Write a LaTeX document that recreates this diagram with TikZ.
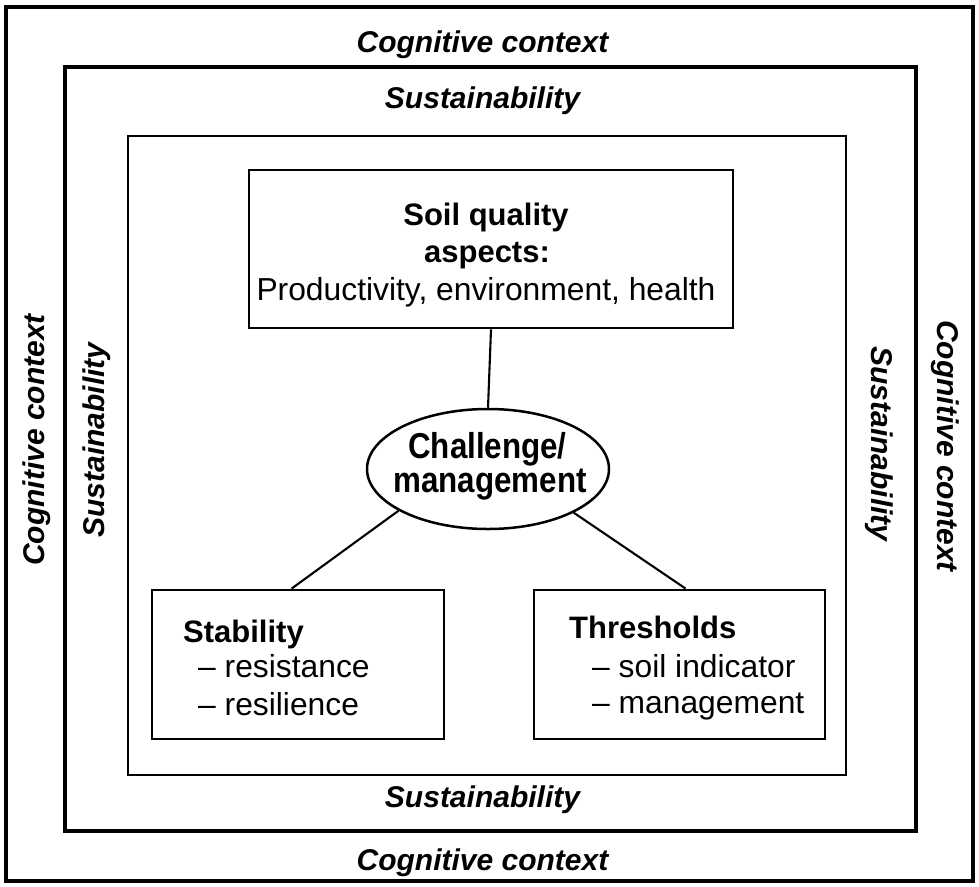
\documentclass[tikz,border=0pt]{standalone}
\usepackage{fontspec}
\setmainfont{Liberation Sans}
\usetikzlibrary{shapes.geometric}
\tikzset{
  frameA/.style={line width=4pt},
  frameB/.style={line width=2.8pt},
  boxst/.style={draw, line width=2.8pt, inner sep=0pt, rectangle},
  conn/.style={line width=2.1pt},
  ctxlabel/.style={inner sep=0pt, font=\fontsize{30}{36}\selectfont\bfseries\itshape},
  boxtxt/.style={inner sep=0pt, font=\fontsize{31.8}{37}\selectfont},
  boxbold/.style={inner sep=0pt, font=\fontsize{31}{37}\selectfont\bfseries},
  elltxt/.style={inner sep=0pt, font=\fontsize{36}{42}\selectfont\bfseries, xscale=0.87},
}
\begin{document}
\begin{tikzpicture}[x=1pt, y=-1pt]
\useasboundingbox (0,0) rectangle (979,886);
% frames
\draw[frameA] (6,7) rectangle (973,881);
\draw[frameA] (65,67) rectangle (916,831);
\draw[frameB] (128,136) rectangle (846,775);

% frame labels
\node[ctxlabel, anchor=base] (ctxT) at (482.5,52) {Cognitive context};
\node[ctxlabel, anchor=base] (susT) at (482.5,108) {Sustainability};
\node[ctxlabel, anchor=base] (susB) at (482.5,807) {Sustainability};
\node[ctxlabel, anchor=base] (ctxB) at (482.5,870) {Cognitive context};
\node[ctxlabel, anchor=base, rotate=90] (ctxL) at (44,440) {Cognitive context};
\node[ctxlabel, anchor=base, rotate=90] (susL) at (104,440) {Sustainability};
\node[ctxlabel, anchor=base, rotate=-90] (susR) at (871,444) {Sustainability};
\node[ctxlabel, anchor=base, rotate=-90] (ctxR) at (937,446) {Cognitive context};

% boxes
\node[boxst, minimum width=484pt, minimum height=158pt] (top) at (491,249) {};
\node[boxst, minimum width=292pt, minimum height=149pt] (lbox) at (298,664.5) {};
\node[boxst, minimum width=291pt, minimum height=149pt] (rbox) at (679.5,664.5) {};
\node[draw, ellipse, line width=2.5pt, minimum width=242pt, minimum height=120pt, inner sep=0pt] (ell) at (488,469) {};

% texts
\node[boxbold, anchor=base] (t1) at (486,225) {Soil quality};
\node[boxbold, anchor=base] (t2) at (487,262) {aspects:};
\node[boxtxt, anchor=base] (t3) at (486,300) {Productivity, environment, health};

\node[elltxt, anchor=base] (e1) at (487.5,458) {Challenge/};
\node[elltxt, anchor=base] (e2) at (490,492) {management};

\node[boxbold, anchor=base west] (s1) at (183,642) {Stability};
\node[boxtxt, anchor=base west] (s2) at (198,677) {– resistance};
\node[boxtxt, anchor=base west] (s3) at (198,715) {– resilience};

\node[boxbold, anchor=base west] (h1) at (569,638) {Thresholds};
\node[boxtxt, anchor=base west] (h2) at (592,677) {– soil indicator};
\node[boxtxt, anchor=base west] (h3) at (592,713) {– management};

% connectors
\draw[conn] (top.south) -- (ell.north);
\draw[conn] (ell.205) -- ([xshift=141pt]lbox.north west);
\draw[conn] (ell.333) -- ([xshift=153pt]rbox.north west);
\end{tikzpicture}
\end{document}
